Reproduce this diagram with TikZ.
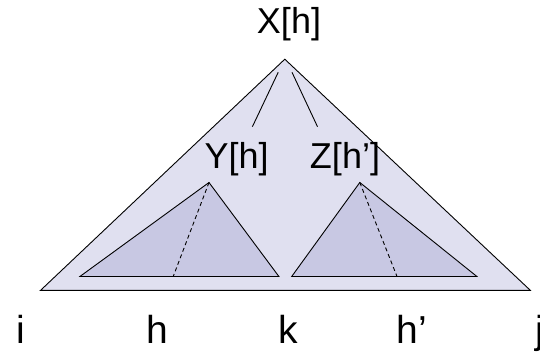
\documentclass[tikz,border=0pt]{standalone}
\usepackage{fontspec}
\setmainfont{Liberation Sans}
\usetikzlibrary{calc}
\definecolor{outerfill}{RGB}{224,224,240}
\definecolor{innerfill}{RGB}{200,200,227}

\begin{document}
\begin{tikzpicture}[x=1pt,y=-1pt,line width=0.9pt,
  lbl/.style={inner sep=0pt,anchor=base,font=\fontsize{36}{40}\selectfont},
  idx/.style={inner sep=0pt,anchor=base,font=\fontsize{39}{44}\selectfont},
  head/.style={dash pattern=on 4pt off 3pt}]
  \useasboundingbox (0,0) rectangle (540,352);
  % outer span X[h]
  \coordinate (A) at (40.6,290.3); \coordinate (B) at (530.3,290.3); \coordinate (T) at (284.8,59.2);
  \draw[fill=outerfill] (A)--(B)--(T)--cycle;
  % left span Y[h]
  \coordinate (YL) at (79.9,276.5); \coordinate (YR) at (278.9,276.5); \coordinate (YT) at (209,182.5);
  \draw[fill=innerfill] (YL)--(YR)--(YT)--cycle;
  \coordinate (Yh) at (173.2,276.5);
  \draw[head] (YT)--(Yh);
  % right span Z[h']
  \coordinate (ZL) at (291.7,276.5); \coordinate (ZR) at (476.9,276.5); \coordinate (ZT) at (359.8,182.5);
  \draw[fill=innerfill] (ZL)--(ZR)--(ZT)--cycle;
  \coordinate (Zh) at (397,276.5);
  \draw[head] (ZT)--(Zh);
  % labels
  \node[lbl] (X) at (289,33.3) {X[h]};
  \node[lbl] (Y) at (236.7,168.3) {Y[h]};
  \node[lbl] (Z) at (345,168.3) {Z[h’]};
  % branches
  \coordinate (x1) at (278.2,72.3); \coordinate (y1) at (252.4,126.7);
  \coordinate (x2) at (292,72.3); \coordinate (z1) at (317.5,126.7);
  \draw (x1)--(y1); \draw (x2)--(z1);
  % positions
  \node[idx] (pi) at (20.7,343) {i};
  \node[idx] (ph) at (157.5,343) {h};
  \node[idx] (pk) at (288.6,343) {k};
  \node[idx] (phh) at (412,343) {h’};
  \node[idx] (pj) at (540,343) {j};
\end{tikzpicture}
\end{document}
